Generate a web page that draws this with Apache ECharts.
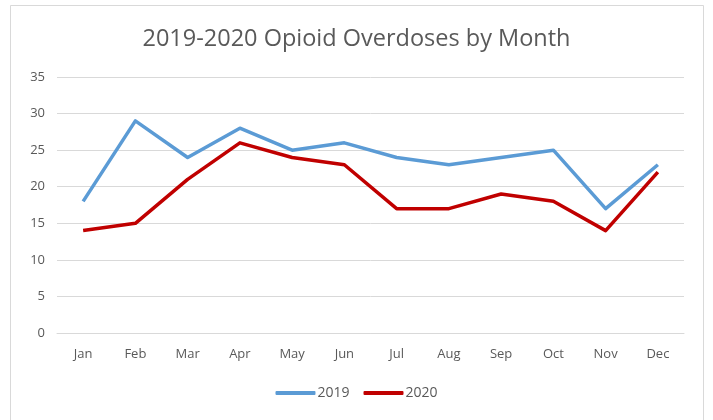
<!DOCTYPE html>
<html>
<head>
<meta charset="utf-8">
<script src="https://cdn.jsdelivr.net/npm/echarts@6/dist/echarts.min.js"></script>
<style>
  html, body { margin: 0; padding: 0; background: #fff; }
  #chart { width: 713px; height: 420px; }
</style>
</head>
<body>
<div id="chart"></div>
<script>
// overdoses by month
const months = ['Jan', 'Feb', 'Mar', 'Apr', 'May', 'Jun', 'Jul', 'Aug', 'Sep', 'Oct', 'Nov', 'Dec'];
const y2019 = [18, 29, 24, 28, 25, 26, 24, 23, 24, 25, 17, 23];
const y2020 = [14, 15, 21, 26, 24, 23, 17, 17, 19, 18, 14, 22];

const textColor = '#595959';
const fontFam = '"Open Sans", sans-serif';

const myChart = echarts.init(document.getElementById('chart'));
myChart.setOption({
  animation: false,
  backgroundColor: '#fff',
  graphic: [
    {
      type: 'rect',
      shape: { x: 10.5, y: 5.5, width: 693, height: 430 },
      style: { fill: 'none', stroke: '#D9D9D9', lineWidth: 1 },
      silent: true,
    },
  ],
  title: {
    text: '2019-2020 Opioid Overdoses by Month',
    left: 'center',
    top: 22,
    textStyle: {
      color: textColor,
      fontFamily: fontFam,
      fontSize: 23.5,
      fontWeight: 'normal',
    },
  },
  legend: {
    bottom: 15,
    left: 'center',
    icon: 'roundRect',
    itemWidth: 40,
    itemHeight: 4,
    itemGap: 14,
    textStyle: { color: textColor, fontFamily: fontFam, fontSize: 14, padding: [0, 0, 0, -3] },
    data: ['2019', '2020'],
  },
  grid: { left: 57, right: 29, top: 77, bottom: 87 },
  xAxis: {
    type: 'category',
    data: months,
    boundaryGap: true,
    axisLine: { lineStyle: { color: '#D9D9D9' } },
    axisTick: { show: false },
    axisLabel: { color: textColor, fontFamily: fontFam, fontSize: 13, margin: 15 },
  },
  yAxis: {
    type: 'value',
    min: 0,
    max: 35,
    interval: 5,
    axisLine: { show: false },
    axisTick: { show: false },
    axisLabel: { color: textColor, fontFamily: fontFam, fontSize: 13, margin: 12 },
    splitLine: { lineStyle: { color: '#D9D9D9', width: 1 } },
  },
  series: [
    {
      name: '2019',
      type: 'line',
      data: y2019,
      symbol: 'none',
      color: '#5B9BD5',
      lineStyle: { width: 3.5, color: '#5B9BD5', join: 'round' },
    },
    {
      name: '2020',
      type: 'line',
      data: y2020,
      symbol: 'none',
      color: '#C00000',
      lineStyle: { width: 3.5, color: '#C00000', join: 'round' },
    },
  ],
});
</script>
</body>
</html>
